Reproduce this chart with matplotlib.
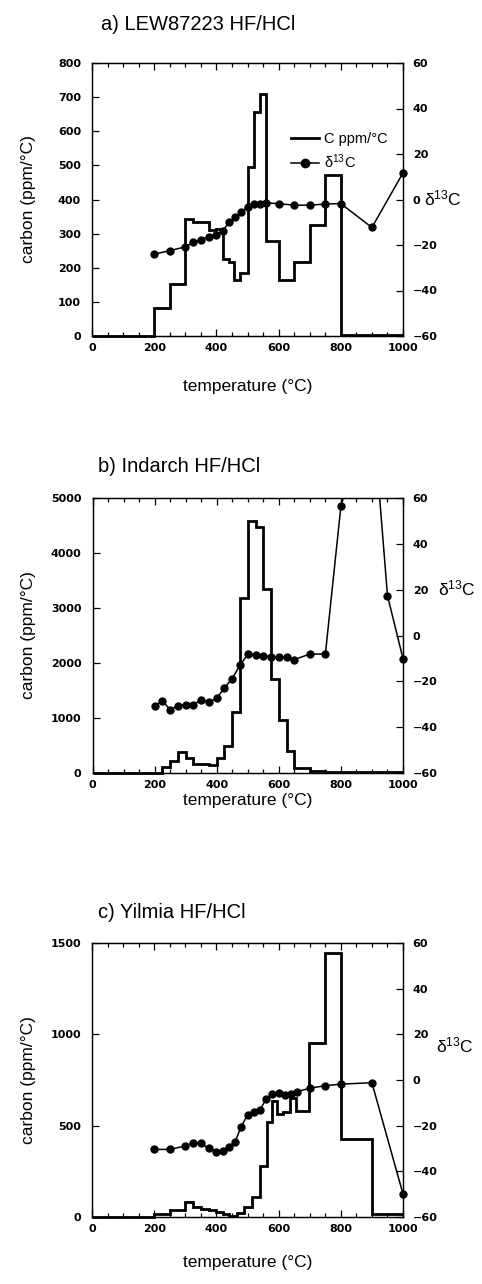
import matplotlib
matplotlib.use('Agg')
import matplotlib.pyplot as plt
import numpy as np
from matplotlib.ticker import MultipleLocator
from matplotlib.lines import Line2D

plt.rcParams['font.family'] = ['Liberation Sans', 'DejaVu Sans']
plt.rcParams['mathtext.fontset'] = 'custom'
plt.rcParams['mathtext.rm'] = 'Liberation Sans'
plt.rcParams['mathtext.default'] = 'regular'

# ---------------- data ----------------
# a) LEW87223
a_edges = [0, 200, 250, 300, 325, 375, 400, 420, 440, 457, 477, 500, 520, 540, 560,
           600, 650, 700, 750, 800, 900, 1000]
a_carbon = [0, 81, 151, 342, 335, 310, 315, 227, 217, 164, 185, 496, 657, 710, 278,
            164, 216, 325, 471, 3, 3]
a_temp = [200, 250, 300, 325, 350, 375, 400, 420, 440, 460, 480, 500, 520, 540, 560,
          600, 650, 700, 750, 800, 900, 1000]
a_d13c = [-24.0, -22.5, -20.8, -18.9, -17.6, -16.4, -15.4, -13.9, -10.1, -7.9, -5.6,
          -3.2, -2.0, -2.0, -1.5, -1.8, -2.5, -2.5, -2.0, -1.8, -12.3, 11.7]

# b) Indarch
b_edges = [0, 200, 225, 250, 275, 300, 325, 350, 375, 400, 425, 450, 475, 500, 525,
           550, 575, 600, 625, 650, 700, 750, 800, 900, 1000]
b_carbon = [0, 0, 115, 224, 388, 267, 160, 155, 150, 279, 500, 1105, 3180, 4585, 4480,
            3340, 1710, 965, 400, 85, 36, 20, 10, 10]
b_temp = [200, 225, 250, 275, 300, 325, 350, 375, 400, 425, 450, 475, 500, 525, 550,
          575, 600, 625, 650, 700, 750, 800, 900, 950, 1000]
b_d13c = [-30.9, -28.4, -32.4, -30.6, -30.3, -30.3, -28.0, -29.2, -27.3, -22.9, -18.8,
          -13.0, -8.2, -8.4, -8.8, -9.4, -9.5, -9.5, -10.5, -8.1, -8.1, 56.4, 102.0,
          17.4, -10.1]

# c) Yilmia
c_edges = [0, 200, 250, 300, 325, 350, 375, 400, 420, 440, 465, 490, 515, 540, 562,
           578, 595, 615, 637, 656, 697, 750, 800, 900, 1000]
c_carbon = [0, 15, 38, 80, 56, 42, 38, 28, 18, 6, 22, 55, 111, 278, 520, 634, 565, 574,
            652, 579, 952, 1443, 429, 16]
c_temp = [200, 250, 300, 325, 350, 375, 400, 420, 440, 460, 480, 500, 520, 540, 560,
          580, 600, 620, 640, 660, 700, 750, 800, 900, 1000]
c_d13c = [-30.4, -30.4, -28.9, -27.4, -27.7, -29.9, -31.4, -30.9, -29.2, -27.0, -20.4,
          -15.3, -14.2, -13.1, -8.3, -6.3, -5.8, -6.6, -6.1, -5.1, -3.6, -2.5, -1.8,
          -1.2, -49.9]

titles = ['a) LEW87223 HF/HCl', 'b) Indarch HF/HCl', 'c) Yilmia HF/HCl']
xlabel = 'temperature (°C)'
ylabel = 'carbon (ppm/°C)'
rlabel = r'$\delta^{13}$C'
legend_labels = ['C ppm/°C', r'$\delta^{13}$C']

# ---------------- layout ----------------
W, H = 482, 1284
fig = plt.figure(figsize=(W / 100, H / 100), dpi=100)


def px_axes(l, t, r, b):
    return fig.add_axes([l / W, 1 - b / H, (r - l) / W, (b - t) / H])


def fx(x):
    return x / W


def fy(y):
    return 1 - y / H


tick_font = dict(family='DejaVu Sans', weight='bold', size=8)

panels = [
    dict(rect=(92, 63, 403, 336), edges=a_edges, carbon=a_carbon, temp=a_temp,
         d13c=a_d13c, ymax=800, ystep=100, title=titles[0], tpos=(101, 29.5),
         xlab_y=387, rpos=(424, 198)),
    dict(rect=(92.5, 498, 403, 773), edges=b_edges, carbon=b_carbon, temp=b_temp,
         d13c=b_d13c, ymax=5000, ystep=1000, title=titles[1], tpos=(98, 471.5),
         xlab_y=801, rpos=(438, 588)),
    dict(rect=(92, 943, 403, 1217), edges=c_edges, carbon=c_carbon, temp=c_temp,
         d13c=c_d13c, ymax=1500, ystep=500, title=titles[2], tpos=(98, 918),
         xlab_y=1262, rpos=(436, 1045)),
]

for i, p in enumerate(panels):
    l, t, r, b = p['rect']
    ax = px_axes(l, t, r, b)
    ax.stairs(p['carbon'], p['edges'], color='black', linewidth=2.0, baseline=None,
              clip_on=False, zorder=3)
    ax.set_xlim(0, 1000)
    ax.set_ylim(0, p['ymax'])
    ax.xaxis.set_major_locator(MultipleLocator(200))
    ax.xaxis.set_minor_locator(MultipleLocator(50))
    ax.yaxis.set_major_locator(MultipleLocator(p['ystep']))
    ax.tick_params(axis='x', which='both', direction='in', top=True, bottom=True,
                   width=0.9, pad=5)
    ax.tick_params(axis='x', which='major', length=5)
    ax.tick_params(axis='x', which='minor', length=3)
    ax.tick_params(axis='y', which='major', direction='in', length=5, width=0.9, pad=8)
    for lab in ax.get_xticklabels() + ax.get_yticklabels():
        lab.set_fontproperties(tick_font)
    for s in ax.spines.values():
        s.set_linewidth(0.9)

    ax2 = ax.twinx()
    ax2.set_ylim(-60, 60)
    temps = np.asarray(p['temp'])
    vals = np.asarray(p['d13c'])
    ax2.plot(temps, vals, color='black', linewidth=1.1, zorder=4)
    inside = vals <= 60
    ax2.plot(temps[inside], vals[inside], linestyle='none', color='black',
             marker='o', markersize=5, clip_on=False, zorder=5)
    ax2.yaxis.set_major_locator(MultipleLocator(20))
    ax2.tick_params(axis='y', direction='in', length=5, width=0.9, pad=7)
    for lab in ax2.get_yticklabels():
        lab.set_fontproperties(tick_font)
    for s in ax2.spines.values():
        s.set_linewidth(0.9)

    fig.text(fx(p['tpos'][0]), fy(p['tpos'][1]), p['title'], fontsize=14.5,
             ha='left', va='baseline')
    fig.text(fx((l + r) / 2), fy(p['xlab_y']), xlabel, fontsize=12.5,
             ha='center', va='center')
    fig.text(fx(29), fy((t + b) / 2), ylabel, fontsize=12.5, rotation=90,
             ha='center', va='center')
    fig.text(fx(p['rpos'][0]), fy(p['rpos'][1]), rlabel, fontsize=12.5,
             ha='left', va='center')

    if i == 0:
        handles = [Line2D([], [], color='black', linewidth=2.0),
                   Line2D([], [], color='black', linewidth=1.1, marker='o',
                          markersize=6)]
        ax2.legend(handles, legend_labels, loc='center left',
                   bbox_to_anchor=(fx(278), fy(151.5)),
                   bbox_transform=fig.transFigure, frameon=False, fontsize=10.5,
                   handlelength=1.9, handletextpad=0.35, labelspacing=0.45,
                   borderpad=0.4)

fig.savefig('out.png', dpi=100)
